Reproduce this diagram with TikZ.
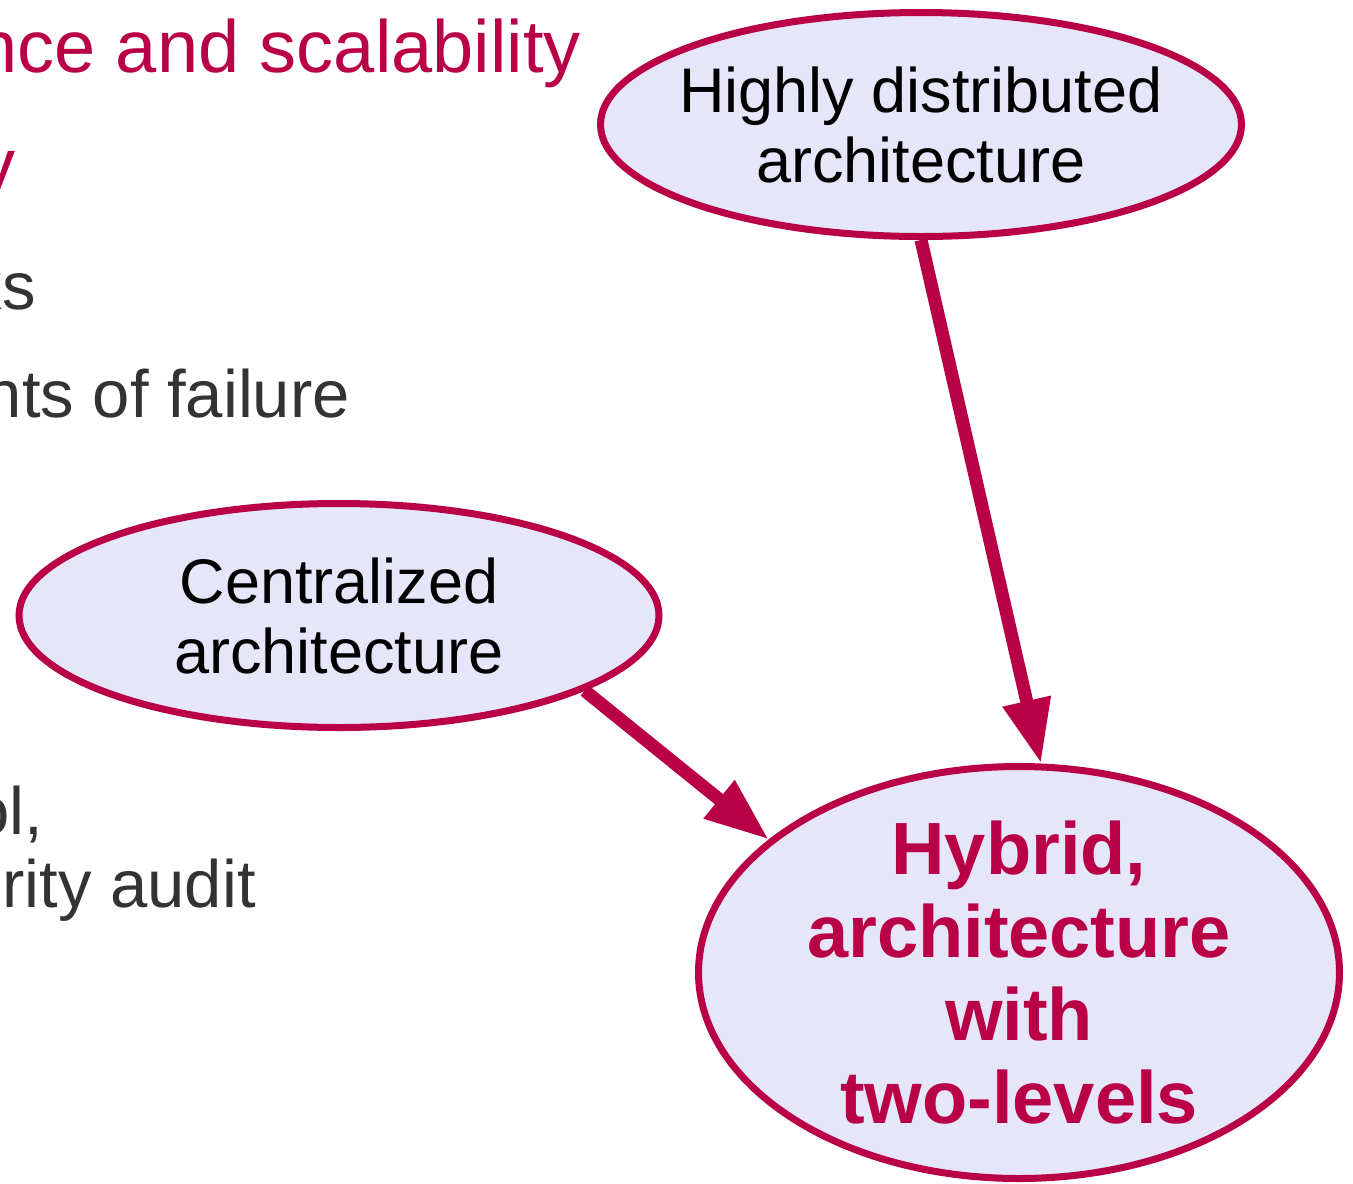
\documentclass[tikz,border=0pt]{standalone}
\usepackage{fontspec}
\setmainfont{Liberation Sans}
\usetikzlibrary{shapes.geometric,arrows.meta}
\definecolor{crim}{RGB}{185,0,70}
\definecolor{lav}{RGB}{230,230,250}
\definecolor{body}{RGB}{51,51,51}
\tikzset{
  bubble/.style={ellipse, draw=crim, line width=7pt, fill=lav, inner sep=0pt},
  bubbletext/.style={inner sep=0pt, align=center, text=black,
    font=\fontsize{63}{70}\selectfont},
  hybridtext/.style={inner sep=0pt, align=center, text=crim,
    font=\fontsize{74}{83}\selectfont\bfseries},
  leadline/.style={anchor=base east, inner sep=0pt, text=crim, font=\fontsize{74}{80}\selectfont},
  bodyline/.style={anchor=base east, inner sep=0pt, text=body, font=\fontsize{67}{72}\selectfont},
  flow/.style={draw=crim, line width=13pt, -{Triangle[length=64pt,width=46pt]}}
}
\begin{document}
\begin{tikzpicture}[x=1pt,y=-1pt]
  \useasboundingbox (0,0) rectangle (1353,1184);
  \clip (0,0) rectangle (1353,1184);
  \fill[white] (0,0) rectangle (1353,1184);

  % bullet text running in from the left
  \node[leadline] (t1) at (581,72) {nce and scalability};
  \node[leadline] (t2) at (16,190) {y};
  \node[bodyline] (t3) at (36,309) {ks};
  \node[bodyline] (t4) at (350,417) {nts of failure};
  \node[bodyline] (t5) at (43,834) {ol,};
  \node[bodyline] (t6) at (256,907) {rity audit};

  % architecture bubbles
  \node[bubble, minimum width=641pt, minimum height=224pt] (hd) at (921,124.5) {};
  \node[bubbletext] (hdtext) at (hd.center) {Highly distributed\\architecture};
  \node[bubble, minimum width=640pt, minimum height=224pt] (ce) at (339,615.5) {};
  \node[bubbletext] (cetext) at (ce.center) {Centralized\\architecture};
  \node[bubble, minimum width=641pt, minimum height=412pt] (hy) at (1019,972.5) {};
  \node[hybridtext] (hytext) at (hy.center) {Hybrid,\\architecture\\with\\two-levels};

  % both feed the hybrid design
  \draw[flow] (hd.south) -- (hy.84);
  \draw[flow] (ce.-17) -- (hy.152);
\end{tikzpicture}
\end{document}
